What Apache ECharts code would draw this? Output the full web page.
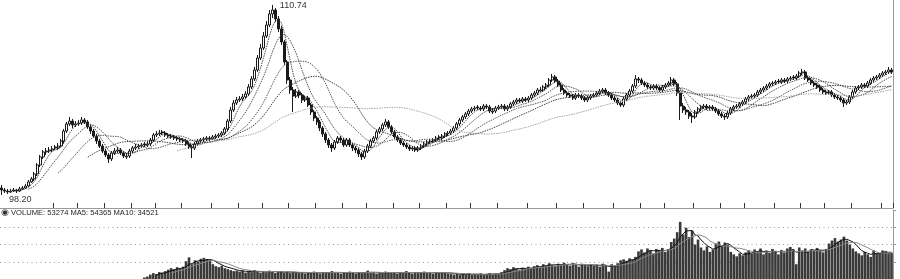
<!DOCTYPE html>
<html><head><meta charset="utf-8">
<script src="https://cdn.jsdelivr.net/npm/echarts@6/dist/echarts.min.js"></script>
<style>html,body{margin:0;padding:0;background:#fff;}#c{width:900px;height:279px;}</style>
</head><body><div id="c"></div>
<script>
const opens = [
98.66,98.53,98.46,98.40,98.46,98.53,98.46,98.60,98.66,98.79,
99.06,99.26,99.59,100.18,100.71,101.04,101.10,101.17,101.37,101.30,
101.43,101.76,102.42,102.89,103.08,102.82,102.89,102.95,103.15,103.02,
102.69,102.42,102.09,101.76,101.43,101.10,100.84,100.58,100.97,101.10,
101.17,100.97,100.71,100.77,101.10,101.30,101.37,101.43,101.57,101.50,
101.57,101.83,102.16,102.23,102.36,102.29,102.16,102.09,102.03,101.96,
101.90,101.83,101.76,101.57,101.37,101.30,101.57,101.76,101.83,101.90,
101.96,101.90,102.03,102.09,102.16,102.29,102.56,103.08,103.81,104.27,
104.47,104.54,104.67,104.87,105.33,105.86,106.45,107.24,107.90,108.69,
109.42,110.15,110.41,109.82,109.16,108.30,106.98,105.79,105.13,104.73,
105.00,104.80,104.47,104.60,104.14,103.68,103.28,103.02,102.62,102.23,
101.83,101.50,101.30,101.70,101.96,101.83,101.50,101.83,101.50,101.30,
101.17,100.91,100.71,101.10,101.43,101.76,101.96,102.36,102.56,102.82,
103.02,102.69,102.36,102.03,101.83,101.63,101.50,101.37,101.24,101.30,
101.17,101.30,101.43,101.57,101.70,101.76,101.83,102.03,101.96,102.09,
102.23,102.29,102.42,102.62,102.89,103.15,103.35,103.55,103.74,103.88,
104.01,103.94,103.88,104.07,104.01,103.68,103.74,103.94,104.01,104.07,
103.88,104.01,104.21,104.34,104.47,104.40,104.54,104.47,104.60,104.80,
104.93,105.06,105.13,105.33,105.46,105.79,105.99,105.72,105.46,105.13,
104.93,104.80,104.73,104.60,104.80,104.73,104.60,104.47,104.60,104.73,
104.80,104.93,105.06,105.13,104.93,104.80,104.60,104.47,104.27,104.14,
104.54,104.80,105.06,105.39,105.86,105.79,105.59,105.46,105.33,105.26,
105.39,105.26,105.13,105.33,105.46,105.59,105.79,105.53,104.93,104.07,
103.81,103.68,103.41,103.35,103.68,103.88,104.01,104.07,103.94,104.01,
103.88,103.74,103.55,103.41,103.35,103.61,103.88,104.01,104.07,104.21,
104.34,104.54,104.67,104.73,104.80,105.00,105.13,105.26,105.39,105.53,
105.59,105.72,105.66,105.79,105.72,105.86,105.99,105.92,106.05,106.25,
106.32,105.92,105.79,105.59,105.46,105.33,105.13,105.00,104.93,105.00,
104.80,104.67,104.60,104.47,104.27,104.34,104.67,105.00,105.26,105.33,
105.46,105.39,105.59,105.79,105.92,105.99,106.12,106.25,106.32,106.45
];
const closes = [
98.53,98.46,98.40,98.46,98.53,98.46,98.60,98.66,98.79,99.06,
99.26,99.59,100.18,100.71,101.04,101.10,101.17,101.24,101.30,101.43,
101.76,102.42,102.89,103.08,102.82,102.89,102.95,103.15,103.02,102.69,
102.42,102.09,101.76,101.43,101.10,100.84,100.58,100.97,101.10,101.17,
100.97,100.77,100.77,101.10,101.30,101.37,101.43,101.50,101.50,101.57,
101.83,102.16,102.23,102.29,102.29,102.16,102.09,102.03,101.96,101.90,
101.83,101.76,101.57,101.37,101.30,101.57,101.76,101.83,101.90,101.96,
101.90,102.03,102.09,102.16,102.29,102.56,103.08,103.81,104.27,104.47,
104.54,104.67,104.87,105.33,105.86,106.45,107.24,107.90,108.69,109.42,
110.15,110.41,109.82,109.16,108.30,106.98,105.79,105.13,104.73,105.00,
104.80,104.47,104.60,104.14,103.68,103.28,103.02,102.62,102.23,101.83,
101.50,101.30,101.70,101.96,101.83,101.50,101.83,101.50,101.30,101.17,
100.91,100.71,101.10,101.43,101.76,101.96,102.36,102.56,102.82,103.02,
102.69,102.36,102.03,101.83,101.63,101.50,101.37,101.24,101.30,101.17,
101.30,101.43,101.57,101.70,101.76,101.83,101.96,101.96,102.09,102.23,
102.29,102.42,102.62,102.89,103.15,103.35,103.55,103.74,103.88,103.94,
103.94,103.88,104.07,104.01,103.74,103.74,103.94,104.01,104.07,103.88,
104.01,104.21,104.34,104.47,104.40,104.54,104.47,104.60,104.80,104.93,
105.13,105.13,105.33,105.46,105.79,105.99,105.72,105.46,105.13,104.93,
104.80,104.73,104.60,104.80,104.73,104.60,104.47,104.60,104.73,104.80,
104.93,105.06,105.13,104.93,104.80,104.60,104.47,104.27,104.14,104.54,
104.80,105.06,105.39,105.86,105.79,105.59,105.46,105.33,105.26,105.39,
105.26,105.13,105.33,105.46,105.59,105.79,105.53,104.93,104.07,103.81,
103.68,103.41,103.35,103.68,103.88,104.01,104.07,103.94,104.01,103.88,
103.74,103.55,103.41,103.35,103.61,103.88,104.01,104.07,104.21,104.34,
104.54,104.67,104.73,104.80,105.00,105.13,105.26,105.39,105.53,105.59,
105.66,105.66,105.79,105.72,105.86,105.92,105.92,106.05,106.25,106.32,
105.92,105.79,105.59,105.46,105.33,105.13,105.00,104.93,105.00,104.80,
104.67,104.60,104.47,104.27,104.34,104.67,105.00,105.26,105.33,105.46,
105.39,105.59,105.79,105.92,105.99,106.12,106.25,106.32,106.45,106.32
];
const lows = [
98.20,98.33,98.27,98.33,98.40,98.33,98.40,98.53,98.60,98.73,
98.99,99.12,99.45,100.05,100.58,100.84,100.97,101.04,101.17,101.17,
101.37,101.63,102.29,102.75,102.62,102.69,102.75,102.82,102.89,102.56,
102.23,101.96,101.57,101.30,100.97,100.71,100.31,100.44,100.84,100.97,
100.84,100.64,100.58,100.64,100.97,101.17,101.24,101.30,101.37,101.37,
101.43,101.70,102.03,102.09,102.16,102.03,101.96,101.90,101.83,101.76,
101.70,101.63,101.43,101.24,100.64,101.17,101.43,101.63,101.70,101.76,
101.76,101.83,101.90,101.96,102.03,102.16,102.42,102.95,103.68,104.14,
104.34,104.40,104.54,104.73,105.20,105.72,106.32,107.11,107.77,108.56,
109.29,109.88,109.62,108.96,108.10,106.78,105.53,104.87,103.68,104.60,
104.60,104.27,104.34,104.01,103.48,103.08,102.82,102.42,102.03,101.63,
101.30,101.04,101.17,101.57,101.63,101.37,101.37,101.37,101.10,100.97,
100.71,100.51,100.58,100.97,101.30,101.63,101.83,102.23,102.42,102.69,
102.56,102.23,101.90,101.70,101.50,101.37,101.24,101.10,101.10,101.04,
101.04,101.17,101.30,101.43,101.57,101.63,101.70,101.83,101.83,101.96,
102.09,102.16,102.29,102.49,102.75,103.02,103.22,103.41,103.61,103.74,
103.81,103.74,103.74,103.88,103.61,103.55,103.61,103.81,103.88,103.74,
103.74,103.88,104.07,104.21,104.27,104.27,104.34,104.34,104.47,104.67,
104.80,105.00,105.00,105.20,105.33,105.66,105.59,105.33,105.00,104.80,
104.67,104.60,104.47,104.47,104.60,104.47,104.34,104.34,104.47,104.67,
104.67,104.80,104.93,104.80,104.67,104.47,104.34,104.14,104.01,104.01,
104.40,104.67,104.93,105.26,105.59,105.46,105.33,105.20,105.13,105.13,
105.13,105.00,105.00,105.20,105.33,105.46,105.39,104.73,103.15,103.61,
103.48,103.22,102.95,103.22,103.55,103.74,103.88,103.81,103.81,103.74,
103.61,103.41,103.28,103.15,103.22,103.48,103.74,103.88,103.94,104.07,
104.21,104.40,104.54,104.60,104.67,104.87,105.00,105.13,105.26,105.39,
105.46,105.53,105.53,105.59,105.59,105.72,105.79,105.79,105.92,106.12,
105.79,105.66,105.46,105.33,105.20,105.00,104.87,104.80,104.80,104.67,
104.54,104.47,104.34,104.01,104.14,104.21,104.54,104.87,105.13,105.20,
105.26,105.26,105.46,105.66,105.79,105.86,105.99,106.12,106.19,106.19
];
const highs = [
98.86,98.66,98.60,98.60,98.66,98.60,98.73,98.79,98.93,99.19,
99.39,99.72,100.31,100.84,101.17,101.30,101.37,101.43,101.50,101.63,
101.90,102.56,103.02,103.35,103.22,103.08,103.15,103.35,103.28,103.15,
102.82,102.56,102.23,101.90,101.57,101.24,100.97,101.10,101.30,101.37,
101.30,101.10,100.97,101.24,101.43,101.57,101.57,101.63,101.70,101.76,
101.96,102.29,102.42,102.49,102.49,102.42,102.29,102.23,102.16,102.09,
102.03,101.96,101.90,101.70,101.50,101.70,101.90,101.96,102.03,102.09,
102.09,102.16,102.23,102.29,102.42,102.69,103.22,104.01,104.47,104.67,
104.73,104.87,105.06,105.53,106.05,106.65,107.44,108.17,108.96,109.68,
110.41,110.74,110.54,110.01,109.35,108.43,107.11,105.99,105.33,105.20,
105.13,104.93,104.73,104.73,104.27,103.81,103.41,103.15,102.75,102.36,
101.96,101.63,101.83,102.09,102.09,101.96,101.96,101.96,101.63,101.43,
101.30,101.04,101.24,101.57,101.90,102.09,102.49,102.69,102.95,103.22,
103.15,102.82,102.49,102.16,101.96,101.76,101.63,101.50,101.43,101.43,
101.43,101.57,101.70,101.83,101.90,101.96,102.09,102.16,102.23,102.36,
102.42,102.56,102.75,103.02,103.28,103.48,103.68,103.88,104.01,104.07,
104.14,104.07,104.21,104.21,104.14,103.94,104.07,104.14,104.21,104.21,
104.14,104.34,104.47,104.60,104.60,104.67,104.67,104.73,104.93,105.06,
105.26,105.33,105.46,105.59,105.92,106.19,106.12,105.86,105.59,105.26,
105.06,104.93,104.87,104.93,104.93,104.87,104.73,104.73,104.87,104.93,
105.06,105.20,105.26,105.26,105.06,104.93,104.73,104.60,104.40,104.67,
104.93,105.20,105.53,106.12,105.99,105.92,105.72,105.59,105.46,105.53,
105.53,105.39,105.46,105.59,105.72,105.99,105.92,105.66,105.06,104.27,
104.01,103.81,103.61,103.81,104.01,104.14,104.21,104.21,104.14,104.14,
104.01,103.88,103.68,103.55,103.74,104.01,104.14,104.21,104.34,104.47,
104.67,104.80,104.87,104.93,105.13,105.26,105.39,105.53,105.66,105.72,
105.79,105.86,105.92,105.92,105.99,106.05,106.12,106.19,106.38,106.52,
106.45,106.05,105.92,105.72,105.59,105.46,105.26,105.13,105.13,105.13,
104.93,104.80,104.73,104.60,104.47,104.80,105.13,105.39,105.46,105.59,
105.59,105.72,105.92,106.05,106.12,106.25,106.38,106.45,106.65,106.58
];
const volumes = [
0,0,0,0,0,0,0,0,0,0,
0,0,0,0,0,0,0,0,0,0,
0,0,0,0,0,0,0,0,0,0,
0,0,0,0,0,0,0,0,0,0,
0,0,0,0,0,0,0,0,3000,5000,
9000,12000,10000,14000,13000,16000,19000,22000,20000,24000,
21000,25000,36000,44000,30000,38000,35000,41000,43000,40000,
38000,30000,26000,24000,27000,22000,20000,18000,16000,17000,
15000,17000,13000,16000,14000,18000,15000,13000,16000,14000,
17000,15000,12000,14000,16000,13000,15000,12000,14000,13000,
12000,14000,11000,13000,12000,15000,13000,11000,14000,12000,
13000,16000,12000,14000,11000,13000,12000,15000,13000,11000,
14000,12000,13000,17000,12000,14000,11000,13000,12000,15000,
13000,12000,14000,11000,13000,12000,16000,13000,11000,14000,
12000,13000,15000,12000,14000,11000,13000,12000,14000,13000,
11000,10000,9000,11000,8000,10000,9000,12000,8000,10000,
9000,11000,8000,10000,12000,9000,11000,10000,14000,18000,
22000,20000,24000,21000,19000,23000,21000,25000,22000,26000,
28000,24000,30000,27000,32000,29000,26000,31000,28000,33000,
30000,27000,32000,29000,25000,31000,28000,26000,30000,27000,
29000,25000,31000,28000,15000,30000,27000,32000,38000,40000,
37000,42000,39000,45000,56000,60000,54000,62000,58000,52000,
61000,57000,63000,55000,60000,75000,82000,95000,116000,90000,
104000,85000,98000,70000,80000,64000,58000,66000,55000,60000,
72000,76000,68000,74000,70000,55000,50000,46000,52000,48000,
54000,58000,52000,60000,55000,62000,50000,57000,53000,61000,
56000,50000,59000,54000,62000,65000,60000,30000,64000,58000,
62000,55000,60000,57000,63000,58000,54000,61000,72000,78000,
83000,76000,80000,86000,78000,70000,62000,56000,52000,48000,
55000,50000,45000,58000,52000,52000,58000,56000,52551,53274
];
const maPeriods = [5, 10, 20, 30, 60];
const maColors = ['#333333', '#3c3c3c', '#454545', '#2a2a2a', '#9a9a9a'];
const volMaPeriods = [5, 10];
const volumeLabel = 'VOLUME: 53274 MA5: 54365 MA10: 34521';

const days = closes.map((_, i) => String(i + 1));
const tickIdx = new Set([18,26,35,44,52,61,71,80,88,97,106,115,123,132,141,150,158,167,177,187,196,206,215,223,233,242,250,260,269,277,286,296]);

function ma(arr, p) {
  return arr.map((_, i) => {
    if (i < p - 1) return '-';
    let s = 0;
    for (let k = i - p + 1; k <= i; k++) { if (!arr[k]) return '-'; s += arr[k]; }
    return +(s / p).toFixed(3);
  });
}

const candles = opens.map((o, i) => [o, closes[i], lows[i], highs[i]]);
const chart = echarts.init(document.getElementById('c'));
const series = [{
  type: 'candlestick', xAxisIndex: 0, yAxisIndex: 0, data: candles, barWidth: 2.5,
  itemStyle: { color: '#ffffff', color0: '#1a1a1a', borderColor: '#1a1a1a', borderColor0: '#1a1a1a', borderWidth: 1 },
  markPoint: {
    symbol: 'circle', symbolSize: 1, itemStyle: { color: 'rgba(0,0,0,0)' },
    label: { show: true, color: '#333', fontSize: 9, fontFamily: 'Liberation Sans', formatter: p => Number(p.value).toFixed(2) },
    data: [
      { type: 'max', valueDim: 'highest', label: { position: 'right', offset: [2, 1] } },
      { type: 'min', valueDim: 'lowest', label: { position: 'right', offset: [2, 5] } }
    ]
  }
}];
maPeriods.forEach((p, k) => series.push({
  type: 'line', name: 'MA' + p, xAxisIndex: 0, yAxisIndex: 0, data: ma(closes, p),
  symbol: 'none', smooth: false, lineStyle: { width: 1, color: maColors[k], type: [1.5, 1], opacity: 0.9 }
}));
series.push({
  type: 'bar', xAxisIndex: 1, yAxisIndex: 1, data: volumes, barCategoryGap: '12%',
  itemStyle: { color: '#3a3a3a' }
});
volMaPeriods.forEach((p, k) => series.push({
  type: 'line', xAxisIndex: 1, yAxisIndex: 1, data: ma(volumes, p), symbol: 'none',
  lineStyle: { width: 1, color: k === 0 ? '#111' : '#888' }
}));

chart.setOption({
  animation: false,
  backgroundColor: '#ffffff',
  title: {
    text: '{i|◉} ' + volumeLabel, left: 1, top: 208, padding: 0,
    textStyle: { fontSize: 7.6, fontFamily: 'Liberation Sans', color: '#222', fontWeight: 'normal',
      rich: { i: { fontSize: 9, color: '#333', fontFamily: 'DejaVu Sans' } } }
  },
  grid: [
    { left: 0, right: 7, top: 0, height: 208 },
    { left: 0, right: 7, top: 210, height: 69 }
  ],
  xAxis: [
    { type: 'category', gridIndex: 0, data: days, boundaryGap: true,
      axisLine: { onZero: false, lineStyle: { color: '#999', width: 1 } },
      axisTick: { show: true, inside: true, length: 5, interval: (i) => tickIdx.has(i), lineStyle: { color: '#333', width: 1 } },
      axisLabel: { show: false }, splitLine: { show: false } },
    { type: 'category', gridIndex: 1, data: days, boundaryGap: true, show: false }
  ],
  yAxis: [
    { type: 'value', gridIndex: 0, position: 'right', min: 97.34, max: 111.07, scale: true,
      axisLine: { show: true, lineStyle: { color: '#999' } }, axisTick: { show: false },
      axisLabel: { show: false }, splitLine: { show: false } },
    { type: 'value', gridIndex: 1, position: 'right', min: 0, max: 140000, interval: 35000,
      axisLine: { show: true, lineStyle: { color: '#999' } },
      axisTick: { show: true, length: 3, lineStyle: { color: '#999' } },
      axisLabel: { show: false },
      splitLine: { show: true, showMinLine: false, showMaxLine: false, lineStyle: { type: [1, 3.5], color: '#999', width: 1 } } }
  ],
  series: series
});
</script></body></html>
